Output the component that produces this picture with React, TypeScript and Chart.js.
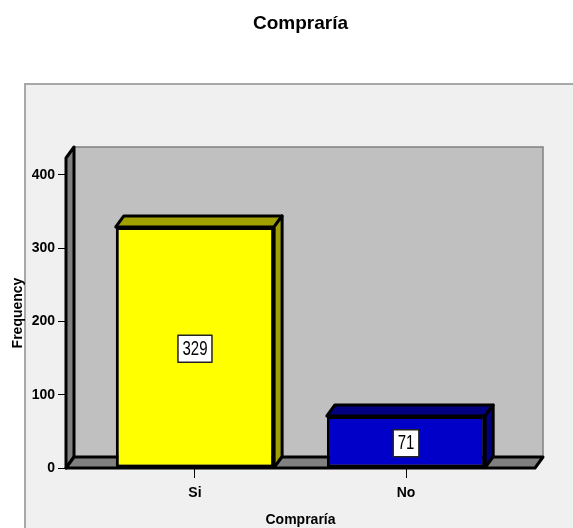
import React, { useEffect, useRef } from 'react';
import { Chart, registerables } from 'chart.js';

Chart.register(...registerables);

// ---- data ----
const categories = ['Si', 'No'];
const frequencies = [329, 71];
const categoryPositions = [0, 1];
const frontColors = ['#ffff00', '#0000c8'];
const shadeColors = ['#a0a000', '#000080'];
const chartTitle = 'Compraría';
const xTitle = 'Compraría';
const yTitle = 'Frequency';
const yTickStep = 100;

const FONT = '"Liberation Sans", Arial, sans-serif';
const DX = 8;
const DY = 11;

const threeDPlugin = {
  id: 'threeD',
  beforeDraw(chart: any) {
    const ctx = chart.ctx;
    const { left, right, top, bottom } = chart.chartArea;
    ctx.save();
    // panel
    ctx.fillStyle = '#f0f0f0';
    ctx.fillRect(25, 84, 700, 600);
    ctx.strokeStyle = '#a8a8a8';
    ctx.lineWidth = 2;
    ctx.strokeRect(25, 84, 700, 600);
    // back wall
    ctx.fillStyle = '#c0c0c0';
    ctx.fillRect(left + DX, top - DY, right - left, bottom - top);
    ctx.strokeStyle = '#808080';
    ctx.lineWidth = 1.5;
    ctx.strokeRect(left + DX, top - DY, right - left, bottom - top);
    ctx.lineJoin = 'round';
    // left wall
    ctx.beginPath();
    ctx.moveTo(left, bottom);
    ctx.lineTo(left, top);
    ctx.lineTo(left + DX, top - DY);
    ctx.lineTo(left + DX, bottom - DY);
    ctx.closePath();
    ctx.fillStyle = '#808080';
    ctx.fill();
    ctx.strokeStyle = '#000';
    ctx.lineWidth = 3;
    ctx.stroke();
    // floor
    ctx.beginPath();
    ctx.moveTo(left, bottom);
    ctx.lineTo(left + DX, bottom - DY);
    ctx.lineTo(right + DX, bottom - DY);
    ctx.lineTo(right, bottom);
    ctx.closePath();
    ctx.fillStyle = '#808080';
    ctx.fill();
    ctx.stroke();
    ctx.restore();
  },
  afterDatasetsDraw(chart: any) {
    const ctx = chart.ctx;
    const meta = chart.getDatasetMeta(0);
    ctx.save();
    ctx.lineJoin = 'round';
    meta.data.forEach((bar: any, i: number) => {
      const { x, y, base, width } = bar.getProps(['x', 'y', 'base', 'width'], true);
      const x1 = x - width / 2;
      const x2 = x + width / 2;
      ctx.fillStyle = shadeColors[i];
      ctx.strokeStyle = '#000';
      ctx.lineWidth = 3;
      // top face
      ctx.beginPath();
      ctx.moveTo(x1, y);
      ctx.lineTo(x1 + DX, y - DY);
      ctx.lineTo(x2 + DX, y - DY);
      ctx.lineTo(x2, y);
      ctx.closePath();
      ctx.fill();
      ctx.stroke();
      // side face
      ctx.beginPath();
      ctx.moveTo(x2, y);
      ctx.lineTo(x2 + DX, y - DY);
      ctx.lineTo(x2 + DX, base - DY);
      ctx.lineTo(x2, base);
      ctx.closePath();
      ctx.fill();
      ctx.stroke();
      // value label
      const txt = String(frequencies[i]);
      const cx = x;
      const cy = (y + base) / 2 + 1.5;
      ctx.font = `15px ${FONT}`;
      const tw = ctx.measureText(txt).width;
      const bw = tw + 9;
      const bh = 27;
      ctx.fillStyle = '#fff';
      ctx.fillRect(cx - bw / 2, cy - bh / 2, bw, bh);
      ctx.strokeStyle = '#222';
      ctx.lineWidth = 1.5;
      ctx.strokeRect(cx - bw / 2, cy - bh / 2, bw, bh);
      ctx.save();
      ctx.translate(cx, cy);
      ctx.scale(1, 1.3);
      ctx.fillStyle = '#000';
      ctx.textAlign = 'center';
      ctx.textBaseline = 'middle';
      ctx.fillText(txt, 0, 0.5);
      ctx.restore();
    });
    ctx.restore();
  },
};

export default function App() {
  const ref = useRef<HTMLCanvasElement | null>(null);

  useEffect(() => {
    if (!ref.current) return;
    const chart = new Chart(ref.current, {
      type: 'bar',
      data: {
        datasets: [
          {
            data: categoryPositions.map((p, i) => ({ x: p, y: frequencies[i] })),
            backgroundColor: frontColors,
            borderColor: '#000',
            borderWidth: 3,
            borderSkipped: false,
            categoryPercentage: 1,
            barPercentage: 0.75,
          } as any,
        ],
      },
      options: {
        animation: false,
        responsive: false,
        devicePixelRatio: 1,
        layout: { padding: { left: 0, right: 38, top: 0, bottom: 0 } },
        plugins: {
          legend: { display: false },
          tooltip: { enabled: false },
          title: {
            display: true,
            fullSize: false,
            text: chartTitle,
            color: '#000',
            font: { family: FONT, size: 19, weight: 'bold' },
            padding: { top: 12, bottom: 158 - 12 - 22.8 },
          },
        },
        scales: {
          x: {
            type: 'linear',
            offset: false,
            min: -0.611,
            max: 1.611,
            afterBuildTicks: (s: any) => {
              s.ticks = categoryPositions.map((v) => ({ value: v }));
            },
            afterFit: (s: any) => {
              s.height = 60;
            },
            ticks: {
              callback: (_v: any, idx: number) => categories[idx] ?? '',
              color: '#000',
              font: { family: FONT, size: 14, weight: 'bold' },
              padding: 7,
              autoSkip: false,
              maxRotation: 0,
            },
            grid: { offset: false, drawOnChartArea: false, tickLength: 10, color: '#000', lineWidth: 1 },
            border: { display: false },
            title: {
              display: true,
              text: xTitle,
              color: '#000',
              font: { family: FONT, size: 14, weight: 'bold' },
              padding: { top: 0, bottom: -1 },
            },
          },
          y: {
            min: 0,
            max: 423,
            afterFit: (s: any) => {
              s.width = 66;
            },
            ticks: {
              stepSize: yTickStep,
              includeBounds: false,
              color: '#000',
              font: { family: FONT, size: 14, weight: 'bold' },
              padding: 3,
            },
            grid: { drawOnChartArea: false, tickLength: 8, color: '#000', lineWidth: 1 },
            border: { display: false },
            title: {
              display: true,
              text: yTitle,
              color: '#000',
              font: { family: FONT, size: 14, weight: 'bold' },
              padding: { top: 10, bottom: 0 },
            },
          },
        },
      } as any,
      plugins: [threeDPlugin],
    });
    return () => chart.destroy();
  }, []);

  return (
    <div style={{ position: 'absolute', left: 0, top: 0, width: 573, height: 528, background: '#fff' }}>
      <canvas ref={ref} width={573} height={528} style={{ display: 'block' }} />
    </div>
  );
}
